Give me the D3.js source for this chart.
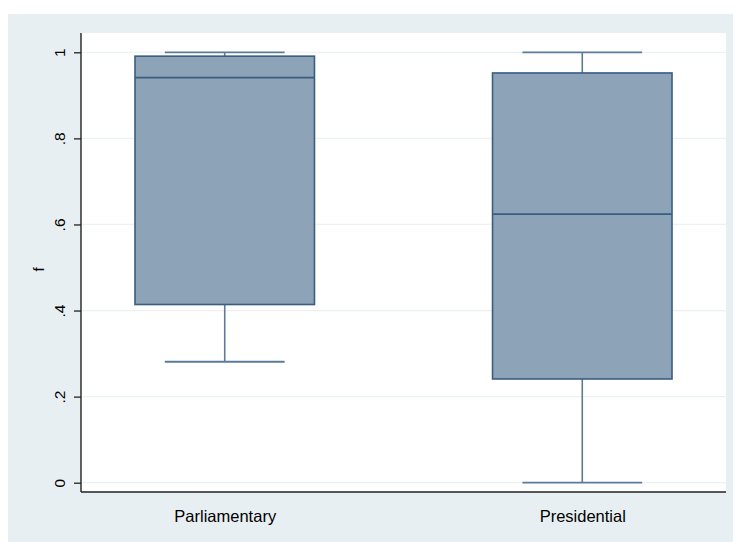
<!DOCTYPE html>
<html>
<head>
<meta charset="utf-8">
<script src="https://cdn.jsdelivr.net/npm/d3@7"></script>
<style>
  html, body { margin: 0; padding: 0; background: #ffffff; }
  svg { display: block; }
  text { font-family: "Liberation Sans", Arial, Helvetica, sans-serif; fill: #000; }
</style>
</head>
<body>
<svg id="chart" width="733" height="542"></svg>
<script>
// Box-plot summaries of f by regime type
const categories = ["Parliamentary", "Presidential"];
const lowerWhisker = [0.281, 0.0];
const q1 = [0.414, 0.241];
const median = [0.941, 0.624];
const q3 = [0.991, 0.952];
const upperWhisker = [1.0, 1.0];
const yTicks = [0, 0.2, 0.4, 0.6, 0.8, 1];
const yTickLabels = ["0", ".2", ".4", ".6", ".8", "1"];
const yTitle = "f";

const svg = d3.select("#chart");
const W = 733, H = 542;

// outer graph region
svg.append("rect").attr("x", 8).attr("y", 14).attr("width", W - 8).attr("height", H - 14)
  .attr("fill", "#e8eff2");

const plot = { left: 81, right: 726, top: 33, bottom: 492 };
svg.append("rect").attr("x", plot.left).attr("y", plot.top)
  .attr("width", plot.right - plot.left).attr("height", plot.bottom - plot.top)
  .attr("fill", "#ffffff");

const y = d3.scaleLinear().domain([0, 1]).range([482.7, 52.3]);
const x = d3.scalePoint().domain(categories).range([plot.left, plot.right]).padding(0.402);
const step = x.step();
const boxW = step * 0.502;
const capW = step * 0.335;

// gridlines
svg.append("g").selectAll("line").data(yTicks).join("line")
  .attr("x1", plot.left).attr("x2", plot.right)
  .attr("y1", d => y(d)).attr("y2", d => y(d))
  .attr("stroke", "#eaf2f4").attr("stroke-width", 1.2);

const rows = categories.map((c, i) => ({
  c, lo: lowerWhisker[i], q1: q1[i], med: median[i], q3: q3[i], hi: upperWhisker[i]
}));

const g = svg.append("g");
const whiskerColor = "#5b7b9a";
const boxStroke = "#3a5d80";

rows.forEach(r => {
  const cx = x(r.c);
  // whisker stems
  g.append("line").attr("x1", cx).attr("x2", cx).attr("y1", y(r.q3)).attr("y2", y(r.hi))
    .attr("stroke", whiskerColor).attr("stroke-width", 1.6);
  g.append("line").attr("x1", cx).attr("x2", cx).attr("y1", y(r.q1)).attr("y2", y(r.lo))
    .attr("stroke", whiskerColor).attr("stroke-width", 1.6);
  // caps
  [r.hi, r.lo].forEach(v => {
    g.append("line").attr("x1", cx - capW / 2).attr("x2", cx + capW / 2)
      .attr("y1", y(v)).attr("y2", y(v))
      .attr("stroke", whiskerColor).attr("stroke-width", 1.8);
  });
  // box
  g.append("rect").attr("x", cx - boxW / 2).attr("y", y(r.q3))
    .attr("width", boxW).attr("height", y(r.q1) - y(r.q3))
    .attr("fill", "#8ca3b8").attr("stroke", boxStroke).attr("stroke-width", 1.6);
  // median
  g.append("line").attr("x1", cx - boxW / 2).attr("x2", cx + boxW / 2)
    .attr("y1", y(r.med)).attr("y2", y(r.med))
    .attr("stroke", boxStroke).attr("stroke-width", 1.8);
});

// y axis
const yAxis = d3.axisLeft(y).tickValues(yTicks).tickSize(7)
  .tickFormat((d, i) => yTickLabels[i]);
const ya = svg.append("g").attr("transform", `translate(${plot.left},0)`).call(yAxis);
ya.select(".domain").attr("d", `M0,${plot.top}V${plot.bottom}`).attr("stroke", "#222").attr("stroke-width", 1.4);
ya.selectAll(".tick line").attr("stroke", "#222").attr("stroke-width", 1.3);
// labels read bottom-to-top, baseline facing the axis
ya.selectAll(".tick text")
  .attr("transform", "translate(-16,0) rotate(-90)")
  .attr("x", 0).attr("y", 0).attr("dy", 0)
  .attr("text-anchor", "middle")
  .style("font-size", "15.5px");

// x axis
const xAxis = d3.axisBottom(x).tickSize(0);
const xa = svg.append("g").attr("transform", `translate(0,${plot.bottom})`).call(xAxis);
xa.select(".domain").attr("d", `M${plot.left},0H${plot.right}`).attr("stroke", "#222").attr("stroke-width", 1.6);
xa.selectAll(".tick text").attr("y", 30).attr("dy", 0).style("font-size", "16.5px");

// y title
svg.append("text").attr("transform", `translate(44,${(plot.top + plot.bottom) / 2 + 7}) rotate(-90)`)
  .attr("text-anchor", "middle").style("font-size", "15px").text(yTitle);
</script>
</body>
</html>
